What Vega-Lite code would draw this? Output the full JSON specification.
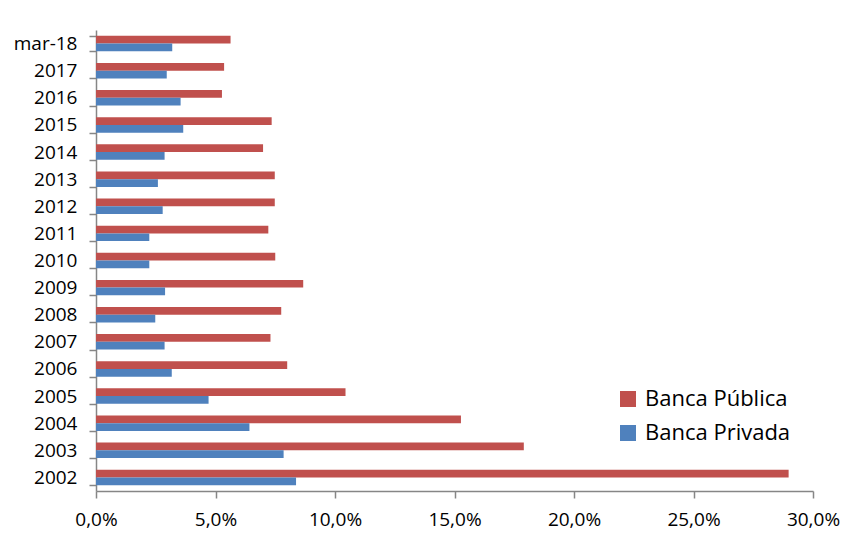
{
  "$schema": "https://vega.github.io/schema/vega-lite/v6.json",
  "width": 717,
  "height": 461,
  "autosize": {"type": "none"},
  "padding": {"left": 96, "top": 30, "right": 34, "bottom": 43},
  "background": "white",
  "config": {
    "view": {"stroke": null},
    "font": "Open Sans",
    "axis": {
      "labelFont": "Open Sans",
      "labelFontSize": 19,
      "labelColor": "#000000",
      "domainColor": "#868686",
      "domainWidth": 1.5,
      "tickColor": "#868686",
      "tickWidth": 1.5,
      "tickSize": 7,
      "grid": false,
      "title": null
    }
  },
  "data": {
    "values": [
      {"periodo": "mar-18", "banca": "Banca Pública", "valor": 5.63},
      {"periodo": "mar-18", "banca": "Banca Privada", "valor": 3.19},
      {"periodo": "2017", "banca": "Banca Pública", "valor": 5.36},
      {"periodo": "2017", "banca": "Banca Privada", "valor": 2.96},
      {"periodo": "2016", "banca": "Banca Pública", "valor": 5.27},
      {"periodo": "2016", "banca": "Banca Privada", "valor": 3.54},
      {"periodo": "2015", "banca": "Banca Pública", "valor": 7.35},
      {"periodo": "2015", "banca": "Banca Privada", "valor": 3.65},
      {"periodo": "2014", "banca": "Banca Pública", "valor": 6.99},
      {"periodo": "2014", "banca": "Banca Privada", "valor": 2.87},
      {"periodo": "2013", "banca": "Banca Pública", "valor": 7.48},
      {"periodo": "2013", "banca": "Banca Privada", "valor": 2.59},
      {"periodo": "2012", "banca": "Banca Pública", "valor": 7.48},
      {"periodo": "2012", "banca": "Banca Privada", "valor": 2.79},
      {"periodo": "2011", "banca": "Banca Pública", "valor": 7.21},
      {"periodo": "2011", "banca": "Banca Privada", "valor": 2.23},
      {"periodo": "2010", "banca": "Banca Pública", "valor": 7.50},
      {"periodo": "2010", "banca": "Banca Privada", "valor": 2.23},
      {"periodo": "2009", "banca": "Banca Pública", "valor": 8.67},
      {"periodo": "2009", "banca": "Banca Privada", "valor": 2.89},
      {"periodo": "2008", "banca": "Banca Pública", "valor": 7.75},
      {"periodo": "2008", "banca": "Banca Privada", "valor": 2.48},
      {"periodo": "2007", "banca": "Banca Pública", "valor": 7.30},
      {"periodo": "2007", "banca": "Banca Privada", "valor": 2.87},
      {"periodo": "2006", "banca": "Banca Pública", "valor": 8.00},
      {"periodo": "2006", "banca": "Banca Privada", "valor": 3.17},
      {"periodo": "2005", "banca": "Banca Pública", "valor": 10.44},
      {"periodo": "2005", "banca": "Banca Privada", "valor": 4.71},
      {"periodo": "2004", "banca": "Banca Pública", "valor": 15.27},
      {"periodo": "2004", "banca": "Banca Privada", "valor": 6.42},
      {"periodo": "2003", "banca": "Banca Pública", "valor": 17.90},
      {"periodo": "2003", "banca": "Banca Privada", "valor": 7.85},
      {"periodo": "2002", "banca": "Banca Pública", "valor": 28.98},
      {"periodo": "2002", "banca": "Banca Privada", "valor": 8.37}
    ]
  },
  "mark": {"type": "bar"},
  "encoding": {
    "y": {
      "field": "periodo",
      "type": "nominal",
      "sort": null,
      "scale": {"paddingInner": 0.43, "paddingOuter": 0.215},
      "axis": {"tickBand": "extent", "labelPadding": 12}
    },
    "yOffset": {
      "field": "banca",
      "type": "nominal",
      "sort": ["Banca Pública", "Banca Privada"]
    },
    "x": {
      "field": "valor",
      "type": "quantitative",
      "scale": {"domain": [0, 30], "nice": false},
      "axis": {
        "values": [0, 5, 10, 15, 20, 25, 30],
        "labelExpr": "replace(format(datum.value, '.1f'), '.', ',') + '%'",
        "labelPadding": 12,
        "labelFlush": false,
        "labelOverlap": false
      }
    },
    "color": {
      "field": "banca",
      "type": "nominal",
      "scale": {
        "domain": ["Banca Pública", "Banca Privada"],
        "range": ["#C0504D", "#4F81BD"]
      },
      "legend": {
        "title": null,
        "orient": "none",
        "legendX": 521,
        "legendY": 358,
        "symbolType": "square",
        "symbolSize": 256,
        "symbolStrokeWidth": 0,
        "labelFont": "Open Sans",
        "labelFontSize": 22,
        "labelColor": "#000000",
        "labelOffset": 6,
        "rowPadding": 12,
        "padding": 0,
        "labelLimit": 300
      }
    }
  }
}
